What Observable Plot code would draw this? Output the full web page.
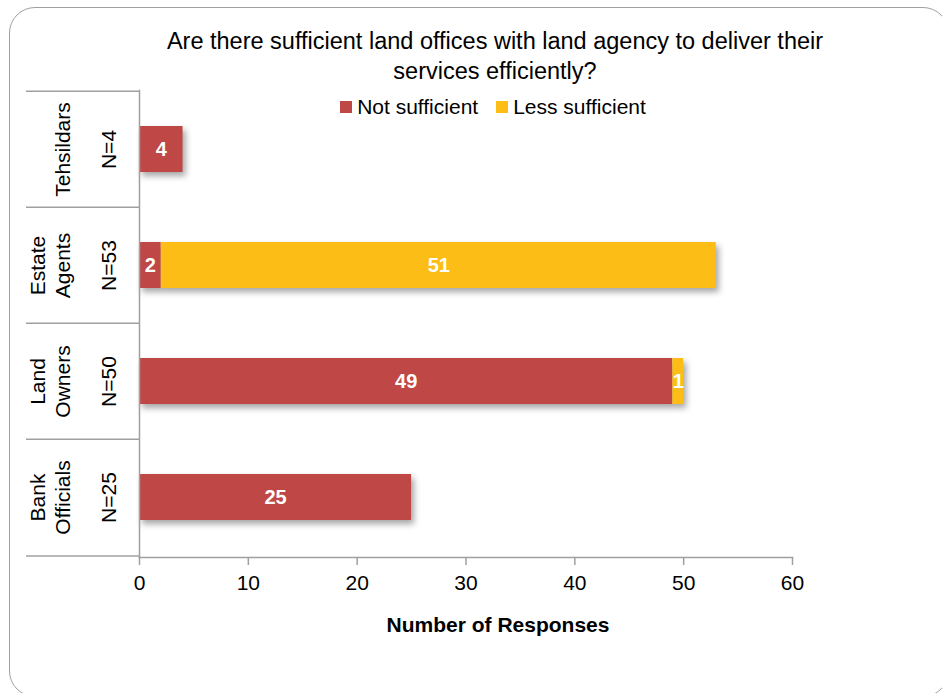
<!DOCTYPE html>
<html>
<head>
<meta charset="utf-8">
<script src="https://cdn.jsdelivr.net/npm/d3@7"></script>
<script src="https://cdn.jsdelivr.net/npm/@observablehq/plot@0.6"></script>
<style>
  html, body { margin: 0; padding: 0; background: #fff; }
  body { width: 942px; height: 693px; position: relative; overflow: hidden; font-family: "Liberation Sans", Arial, sans-serif; }
  #frame { position: absolute; left: 9px; top: 7px; width: 940px; height: 690px; border: 1.5px solid #a0a0a0; border-radius: 26px; box-sizing: border-box; }
  #title { position: absolute; left: 0; top: 26px; width: 990px; text-align: center; font-size: 23.5px; line-height: 30px; color: #000; }
  #legend { position: absolute; left: 0; top: 95px; width: 986px; display: flex; justify-content: center; gap: 18px; font-size: 21px; color: #000; }
  #legend .item { display: flex; align-items: center; gap: 5px; }
  #legend .sw { width: 12px; height: 12px; display: inline-block; }
  #xlabel { position: absolute; left: 0; top: 613px; width: 996px; text-align: center; font-size: 21px; font-weight: bold; color: #000; }
  #chart { position: absolute; left: 0; top: 0; }
</style>
</head>
<body>
<div id="frame"></div>
<div id="chart"></div>
<div id="title">Are there sufficient land offices with land agency to deliver their<br>services efficiently?</div>
<div id="legend"></div>
<div id="xlabel">Number of Responses</div>
<script>
const categories = ["Tehsildars", "Estate\nAgents", "Land\nOwners", "Bank\nOfficials"];
const nLabels = ["N=4", "N=53", "N=50", "N=25"];
const seriesNames = ["Not sufficient", "Less sufficient"];
const notSufficient = [4, 2, 49, 25];
const lessSufficient = [0, 51, 1, 0];
const xTicks = [0, 10, 20, 30, 40, 50, 60];
const colors = ["#BF4746", "#FCBE16"];

const data = [];
categories.forEach((c, i) => {
  data.push({cat: c, series: seriesNames[0], value: notSufficient[i]});
  data.push({cat: c, series: seriesNames[1], value: lessSufficient[i]});
});
const labelled = data.filter(d => d.value > 0);
const catInfo = categories.map((c, i) => ({cat: c, n: nLabels[i]}));

const W = 942, H = 693;
const mL = 139, mR = 150, mT = 90, mB = 136;
const step = (H - mT - mB) / categories.length;

const plot = Plot.plot({
  width: W,
  height: H,
  marginLeft: mL,
  marginRight: mR,
  marginTop: mT,
  marginBottom: mB,
  style: {fontFamily: "'Liberation Sans', Arial, sans-serif", background: "transparent", overflow: "visible"},
  x: {domain: [0, 60], label: null},
  y: {domain: categories, paddingInner: 0.6, paddingOuter: 0.3, label: null},
  color: {domain: seriesNames, range: colors},
  marks: [
    Plot.barX(data, Plot.stackX({x: "value", y: "cat", fill: "series", order: seriesNames})),
    Plot.text(labelled, Plot.stackX({x: "value", y: "cat", z: "series", text: d => String(d.value), order: seriesNames, fill: "white", fontWeight: "bold", fontSize: 20})),
    // table lines at band boundaries on the left
    Plot.axisY({tickSize: mL - 26, dy: -step / 2, tickFormat: () => "", stroke: "#a0a0a0", strokeWidth: 1.5, label: null}),
    Plot.axisY({ticks: [categories[categories.length - 1]], tickSize: mL - 26, dy: step / 2, tickFormat: () => "", stroke: "#a0a0a0", strokeWidth: 1.5, label: null}),
    Plot.frame({anchor: "left", stroke: "#a0a0a0", strokeWidth: 1.5}),
    Plot.frame({anchor: "bottom", stroke: "#a0a0a0", strokeWidth: 1.5}),
    Plot.axisX({ticks: xTicks, tickSize: 8, tickPadding: 10, stroke: "#a0a0a0", strokeWidth: 1.5, fill: "#000", fontSize: 21, label: null}),
    // two-level category labels
    Plot.text(catInfo, {y: "cat", text: "cat", frameAnchor: "left", textAnchor: "middle", dx: 69 - mL, rotate: -90, lineAnchor: "bottom", lineHeight: 1.15, fontSize: 21, fill: "#000"}),
    Plot.text(catInfo, {y: "cat", text: "n", frameAnchor: "left", textAnchor: "middle", dx: 115 - mL, rotate: -90, lineAnchor: "bottom", fontSize: 21, fill: "#000"})
  ]
});

d3.select(plot).selectAll('g[aria-label="bar"]').style("filter", "drop-shadow(3px 4px 3px rgba(0,0,0,0.35))");
document.getElementById("chart").appendChild(plot);

const legend = d3.select("#legend");
seriesNames.forEach((s, i) => {
  const it = legend.append("div").attr("class", "item");
  it.append("span").attr("class", "sw").style("background", colors[i]);
  it.append("span").text(s);
});
</script>
</body>
</html>
